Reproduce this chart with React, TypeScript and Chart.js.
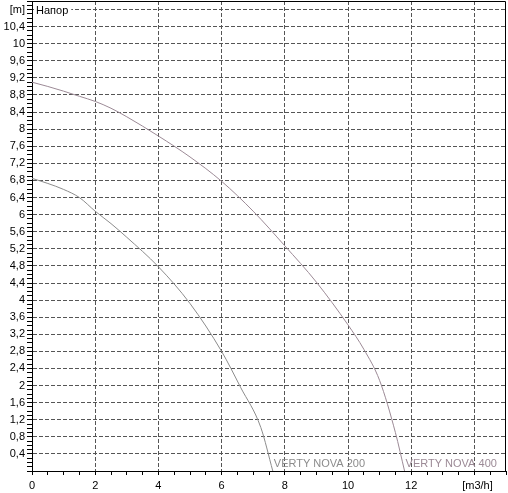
import { useEffect, useRef } from "react";
import { Chart, registerables } from "chart.js";

Chart.register(...registerables);

// pump curves, flow [m3/h] / head [m]
const flow400 = [0, 0.5, 1, 1.5, 2, 2.5, 3, 4, 5, 6, 7, 8, 9, 10, 10.5, 11, 11.5, 11.79];
const head400 = [9.1, 9.0, 8.89, 8.77, 8.65, 8.49, 8.29, 7.84, 7.35, 6.78, 6.08, 5.27, 4.42, 3.42, 2.85, 2.12, 0.9, 0];

const flow200 = [0, 0.5, 1, 1.5, 2, 2.5, 3, 4, 5, 6, 6.6, 7.24, 7.62];
const head200 = [6.85, 6.73, 6.59, 6.4, 6.08, 5.79, 5.47, 4.78, 3.92, 2.8, 1.96, 1.02, 0];

const seriesNames = ["VERTY NOVA 200", "VERTY NOVA 400"];
const xUnit = "[m3/h]";
const yUnit = "[m]";
const yTitle = "Напор";

const FONT = "'Liberation Sans', Arial, sans-serif";

const isMultiple = (v: number, step: number) =>
  Math.abs(v / step - Math.round(v / step)) < 1e-6;

const fmt = (v: number) => String(Number(v.toFixed(1))).replace(".", ",");

const extras = {
  id: "extras",
  afterDatasetsDraw(chart: any) {
    const { ctx, chartArea, scales } = chart;
    const x = scales.x;
    const y = scales.y;
    ctx.save();
    // frame top / right
    ctx.strokeStyle = "#000";
    ctx.lineWidth = 1;
    ctx.beginPath();
    ctx.moveTo(chartArea.left, chartArea.top + 0.5);
    ctx.lineTo(chartArea.right - 0.5, chartArea.top + 0.5);
    ctx.lineTo(chartArea.right - 0.5, chartArea.bottom);
    ctx.stroke();

    // "Напор"
    ctx.font = "11px " + FONT;
    const ty = y.getPixelForValue(10.8);
    const w = ctx.measureText(yTitle).width;
    ctx.fillStyle = "#fff";
    ctx.fillRect(chartArea.left + 2, ty - 6, w + 5, 12);
    ctx.fillStyle = "#000";
    ctx.textBaseline = "middle";
    ctx.fillText(yTitle, chartArea.left + 4, ty + 1);

    // curve names at the end of each curve
    ctx.textBaseline = "alphabetic";
    chart.data.datasets.forEach((ds: any) => {
      const last = ds.data[ds.data.length - 1];
      ctx.fillStyle = ds.borderColor;
      ctx.fillText(ds.label, x.getPixelForValue(last.x) + 1, y.getPixelForValue(0) - 4);
    });
    ctx.restore();
  },
};

const App = () => {
  const chartRef = useRef<HTMLCanvasElement | null>(null);

  useEffect(() => {
    if (!chartRef.current) return;
    Chart.defaults.font.family = FONT;
    Chart.defaults.font.size = 11;
    Chart.defaults.color = "#000";

    const chart = new Chart(chartRef.current, {
      type: "scatter",
      data: {
        datasets: [
          {
            label: seriesNames[0],
            data: flow200.map((f, i) => ({ x: f, y: head200[i] })),
            borderColor: "#8c8c8c",
            borderWidth: 1,
            showLine: true,
            pointRadius: 0,
            cubicInterpolationMode: "monotone",
          },
          {
            label: seriesNames[1],
            data: flow400.map((f, i) => ({ x: f, y: head400[i] })),
            borderColor: "#9c8a96",
            borderWidth: 1,
            showLine: true,
            pointRadius: 0,
            cubicInterpolationMode: "monotone",
          },
        ],
      },
      options: {
        animation: false,
        responsive: true,
        maintainAspectRatio: false,
        layout: { padding: { top: 1, right: 2, left: 0, bottom: 0 } },
        plugins: {
          legend: { display: false },
          tooltip: { enabled: false },
        },
        scales: {
          x: {
            type: "linear",
            min: 0,
            max: 15,
            afterFit: (scale: any) => {
              scale.height = 22;
              scale.paddingLeft = 0;
              scale.paddingRight = 0;
            },
            ticks: {
              stepSize: 0.5,
              autoSkip: false,
              maxRotation: 0,
              padding: 4,
              callback: (v: any) => {
                const n = Number(v);
                if (isMultiple(n, 14) && n > 0) return "  " + xUnit;
                return isMultiple(n, 2) ? fmt(n) : "";
              },
            },
            grid: {
              tickLength: 4,
              tickColor: "#000",
              color: (c: any) =>
                c.tick && isMultiple(c.tick.value, 2) && c.tick.value > 0
                  ? "#555"
                  : "rgba(0,0,0,0)",
            },
            border: { color: "#000", width: 1, dash: [4, 2] },
          },
          y: {
            type: "linear",
            min: 0,
            max: 11,
            afterFit: (scale: any) => {
              scale.width = 32;
              scale.paddingTop = 0;
              scale.paddingBottom = 0;
            },
            ticks: {
              stepSize: 0.1,
              autoSkip: false,
              padding: 2,
              callback: (v: any) => {
                const n = Number(v);
                if (n <= 0 || !isMultiple(n, 0.4)) return "";
                if (Math.abs(n - 10.8) < 1e-6) return yUnit;
                return fmt(n);
              },
            },
            grid: {
              tickLength: 5,
              tickColor: "#000",
              color: (c: any) =>
                c.tick && isMultiple(c.tick.value, 0.4) && c.tick.value > 0
                  ? "#555"
                  : "rgba(0,0,0,0)",
            },
            border: { color: "#000", width: 1, dash: [4, 2] },
          },
        },
      },
      plugins: [extras],
    });

    return () => {
      chart.destroy();
    };
  }, []);

  return (
    <div
      style={{
        position: "absolute",
        left: 0,
        top: 0,
        width: "508px",
        height: "493px",
        background: "#fff",
      }}
    >
      <canvas ref={chartRef} />
    </div>
  );
};

export default App;
